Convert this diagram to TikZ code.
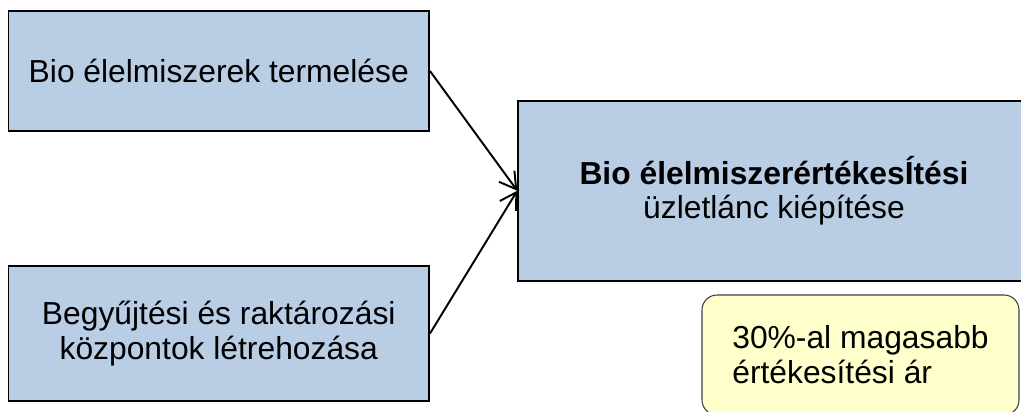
\documentclass[tikz,border=0pt]{standalone}
\usepackage{fontspec}
\setmainfont{Liberation Sans}
\usepackage{tikz}
\usetikzlibrary{arrows.meta, positioning}
\definecolor{boxblue}{RGB}{185,205,229}
\definecolor{noteyellow}{RGB}{255,255,204}
\definecolor{notegray}{RGB}{64,64,64}

\begin{document}
\begin{tikzpicture}[
  stage/.style={rectangle, draw=black, line width=1.1pt, fill=boxblue, inner sep=0pt, font=\fontsize{18.1}{19.9}\selectfont, align=center},
  arr/.style={-{Straight Barb[length=3.2mm, width=3.8mm]}, line width=1.1pt},
  note/.style={rectangle, draw=notegray, line width=0.6pt, fill=noteyellow, rounded corners=0.3cm, inner sep=0pt, font=\fontsize{18.1}{19.9}\selectfont, align=left},
]
  \useasboundingbox (0,0) rectangle (20.42,8.22);
  \clip (0,0) rectangle (20.42,8.22);

  % Inputs (left)
  \node[stage, minimum width=8.41cm, minimum height=2.4cm] (prod) at (4.375,6.8) {Bio élelmiszerek termelése};
  \node[stage, minimum width=8.41cm, minimum height=2.7cm] (coll) at (4.375,1.55) {Begyűjtési és raktározási\\központok létrehozása};

  % Goal (right)
  \node[stage, minimum width=10.23cm, minimum height=3.6cm] (chain) at (15.48,4.406) {\textbf{Bio élelmiszerértékesÍtési}\\üzletlánc kiépítése};
  \draw[arr] (prod.east) -- (chain.west);
  \draw[arr] (coll.east) -- (chain.west);

  % Note
  \node[note, minimum width=6.34cm, minimum height=2.4cm] (price) at (17.21,1.12) {30\%-al magasabb\\értékesítési ár};
\end{tikzpicture}
\end{document}
